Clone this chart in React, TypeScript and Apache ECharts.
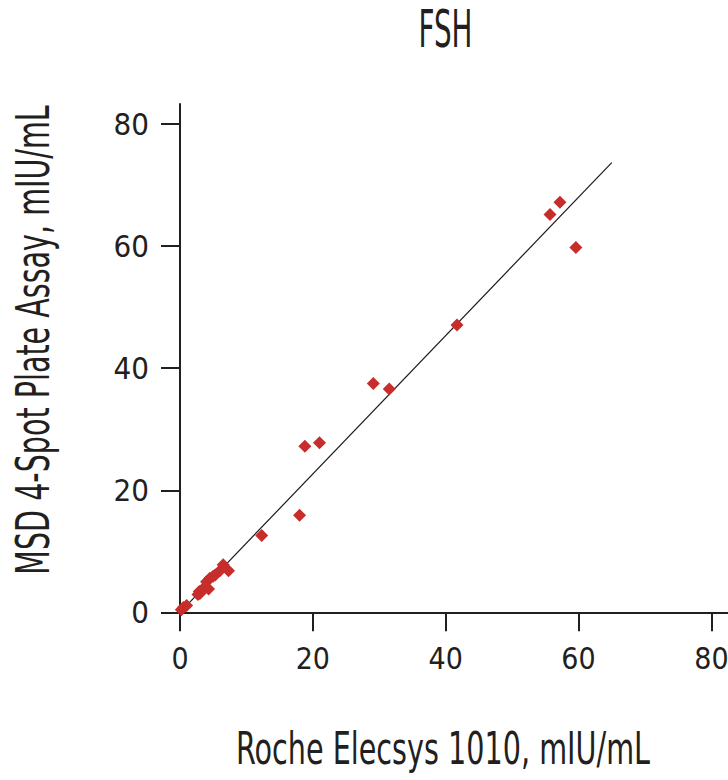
import React, { useEffect, useRef } from "react";
import * as echarts from "echarts";

const titleText = "FSH";
const xAxisTitle = "Roche Elecsys 1010, mIU/mL";
const yAxisTitle = "MSD 4-Spot Plate Assay, mIU/mL";

const tickValues = [0, 20, 40, 60, 80];

// Roche Elecsys 1010 (x) vs MSD 4-Spot Plate Assay (y)
const rocheValues = [
  0.2, 0.5, 1.0, 2.7, 2.9, 3.0, 3.5, 4.0, 4.3, 4.5, 5.0, 5.3, 6.0, 6.5, 7.3,
  12.3, 18.0, 18.8, 21.0, 29.1, 31.5, 41.7, 55.7, 57.2, 59.6,
];
const msdValues = [
  0.4, 0.8, 1.1, 2.9, 3.4, 3.1, 3.9, 5.0, 3.8, 5.6, 5.9, 6.1, 6.8, 7.8, 6.8,
  12.6, 15.9, 27.2, 27.8, 37.5, 36.6, 47.1, 65.2, 67.2, 59.8,
];

// regression line end points
const fitX = [0, 65.0];
const fitY = [0, 73.7];

const FONT = "'DejaVu Sans Condensed', 'DejaVu Sans', sans-serif";
const INK = "#231f20";

function measure(text: string, size: number): number {
  const c = document.createElement("canvas");
  const ctx = c.getContext("2d");
  if (!ctx) return text.length * size * 0.55;
  ctx.font = `${size}px ${FONT}`;
  return ctx.measureText(text).width;
}

export default function App() {
  const ref = useRef<HTMLDivElement>(null);

  useEffect(() => {
    if (!ref.current) return;
    const chart = echarts.init(ref.current, undefined, {
      renderer: "svg",
      width: 728,
      height: 780,
    });
    const points = rocheValues.map((x, i) => [x, msdValues[i]]);
    const fit = fitX.map((x, i) => [x, fitY[i]]);

    // condensed look: squeeze each title to the reference's width
    const titleSize = 52;
    const xTitleSize = 44;
    const yTitleSize = 46;
    const titleScale = 54 / measure(titleText, titleSize);
    const xTitleScale = 414 / measure(xAxisTitle, xTitleSize);
    const yTitleScale = 470 / measure(yAxisTitle, yTitleSize);

    chart.setOption({
      animation: false,
      backgroundColor: "#ffffff",
      graphic: [
        {
          type: "text",
          x: 445.5,
          y: 29,
          scaleX: titleScale,
          style: {
            text: titleText,
            fontFamily: FONT,
            fontSize: titleSize,
            fill: INK,
            align: "center",
            verticalAlign: "middle",
          },
        },
        {
          type: "text",
          x: 443,
          y: 749,
          scaleX: xTitleScale,
          style: {
            text: xAxisTitle,
            fontFamily: FONT,
            fontSize: xTitleSize,
            fill: INK,
            align: "center",
            verticalAlign: "middle",
          },
        },
        {
          type: "text",
          x: 33,
          y: 340,
          rotation: Math.PI / 2,
          scaleX: yTitleScale,
          style: {
            text: yAxisTitle,
            fontFamily: FONT,
            fontSize: yTitleSize,
            fill: INK,
            align: "center",
            verticalAlign: "middle",
          },
        },
      ],
      grid: {
        left: 180,
        right: 0,
        top: 104,
        bottom: 167.7,
        containLabel: false,
        outerBoundsMode: "none",
      },
      xAxis: {
        type: "value",
        min: 0,
        max: 82.5,
        interval: 20,
        axisLine: { show: true, lineStyle: { color: INK, width: 2 } },
        axisTick: {
          show: true,
          inside: false,
          length: 19,
          customValues: tickValues,
          lineStyle: { color: INK, width: 2 },
        },
        axisLabel: {
          customValues: tickValues,
          margin: 31,
          fontFamily: FONT,
          fontSize: 30,
          color: INK,
        },
        splitLine: { show: false },
      },
      yAxis: {
        type: "value",
        min: 0,
        max: 83.3,
        interval: 20,
        axisLine: { show: true, lineStyle: { color: INK, width: 2 } },
        axisTick: {
          show: true,
          inside: false,
          length: 19,
          customValues: tickValues,
          lineStyle: { color: INK, width: 2 },
        },
        axisLabel: {
          customValues: tickValues,
          margin: 31,
          fontFamily: FONT,
          fontSize: 31,
          color: INK,
        },
        splitLine: { show: false },
      },
      series: [
        {
          name: "Fit",
          type: "line",
          data: fit,
          showSymbol: false,
          symbol: "none",
          lineStyle: { color: "#1a1a1a", width: 1.2 },
          z: 2,
        },
        {
          name: "FSH",
          type: "scatter",
          data: points,
          symbol: "diamond",
          symbolSize: 13,
          itemStyle: { color: "#c62d2b", opacity: 1 },
          z: 3,
        },
      ],
    });

    return () => chart.dispose();
  }, []);

  return (
    <div
      ref={ref}
      style={{ position: "fixed", left: 0, top: 0, width: 728, height: 780, background: "#fff" }}
    />
  );
}
